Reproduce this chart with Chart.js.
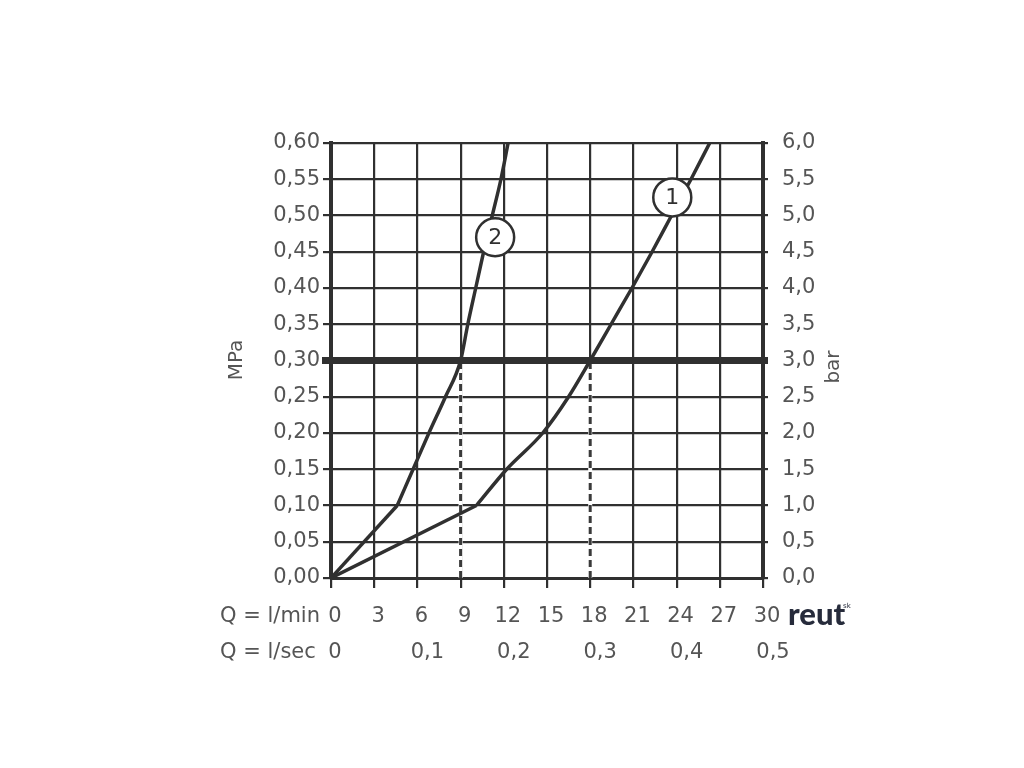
<!DOCTYPE html>
<html>
<head>
<meta charset="utf-8">
<script src="https://cdn.jsdelivr.net/npm/chart.js@4/dist/chart.umd.min.js"></script>
<style>
  html, body { margin: 0; padding: 0; background: #fff; }
  #wrap { width: 1024px; height: 768px; position: relative; }
</style>
</head>
<body>
<div id="wrap"><canvas id="chart" width="1024" height="768"></canvas></div>
<script>
// flow Q in l/min against pressure in MPa; the first two points of each curve
// form a straight start, the rest is a smooth curve
const curve1Q   = [0, 10.1, 12.2, 14.7, 16.5, 18, 19.45, 20.9, 22.3, 23.65, 25.0, 26.3];
const curve1MPa = [0, 0.10, 0.15, 0.20, 0.25, 0.30, 0.35, 0.40, 0.45, 0.50, 0.55, 0.60];
const curve2Q   = [0, 4.6, 5.7, 6.8, 7.95, 9, 9.5, 10.05, 10.6, 11.2, 11.8, 12.3];
const curve2MPa = [0, 0.10, 0.15, 0.20, 0.25, 0.30, 0.35, 0.40, 0.45, 0.50, 0.55, 0.60];

const refPressure = 0.30;          // thick line
const refFlows = [9, 18];          // dashed drops
const curveLabels = ['1', '2'];
const labelQ   = [23.7, 11.4];
const labelMPa = [0.525, 0.470];

const lsecTicks = [0, 0.1, 0.2, 0.3, 0.4, 0.5];

const INK = '#303030';
const TXT = '#555';
const FONT = 'DejaVu Sans';

const toPts = (xs, ys) => xs.map((x, i) => ({ x: x, y: ys[i] }));
const comma = v => String(v).replace('.', ',');

// start of a curve (straight) and the rest (smooth)
function curveSets(xs, ys) {
  return [
    {
      data: toPts(xs.slice(0, 2), ys.slice(0, 2)), order: 0,
      borderColor: INK, borderWidth: 3.5, pointRadius: 0, tension: 0
    },
    {
      data: toPts(xs.slice(1), ys.slice(1)), order: 0,
      borderColor: INK, borderWidth: 3.5, pointRadius: 0,
      cubicInterpolationMode: 'monotone'
    }
  ];
}

// dashed drop: white line hides the grid line, dashes on top
// (a lower order is drawn later, on top)
function dropSets(q) {
  const pts = toPts([q, q], [0, refPressure]);
  return [
    { data: pts, order: 2, borderColor: '#fff', borderWidth: 4, pointRadius: 0 },
    { data: pts, order: 1, borderColor: '#3a3a3a', borderWidth: 3, borderDash: [7, 4], pointRadius: 0 }
  ];
}

// extra text and marks around the plot
const extras = {
  id: 'extras',
  afterDatasetsDraw(chart) {
    const ctx = chart.ctx;
    const { x, y } = chart.scales;
    const area = chart.chartArea;
    ctx.save();

    // thick line runs out over the tick marks
    const yr = y.getPixelForValue(refPressure);
    ctx.strokeStyle = INK;
    ctx.lineWidth = 7;
    ctx.beginPath();
    ctx.moveTo(area.left - 9, yr);
    ctx.lineTo(area.right + 5, yr);
    ctx.stroke();

    // numbers inside the circles
    ctx.fillStyle = INK;
    ctx.font = '22px ' + FONT;
    ctx.textAlign = 'center';
    ctx.textBaseline = 'middle';
    curveLabels.forEach((t, i) => {
      ctx.fillText(t, x.getPixelForValue(labelQ[i]), y.getPixelForValue(labelMPa[i]) + 1);
    });

    // axis titles
    ctx.fillStyle = TXT;
    ctx.font = '20px ' + FONT;
    ctx.save();
    ctx.translate(237, 360);
    ctx.rotate(-Math.PI / 2);
    ctx.fillText('MPa', 0, 0);
    ctx.restore();
    ctx.save();
    ctx.translate(834, 367);
    ctx.rotate(-Math.PI / 2);
    ctx.fillText('bar', 0, 0);
    ctx.restore();

    // row captions
    ctx.font = '21px ' + FONT;
    ctx.textAlign = 'left';
    ctx.fillText('Q = l/min', 220, 617);
    ctx.fillText('Q = l/sec', 220, 653);

    // l/sec row
    ctx.textAlign = 'center';
    lsecTicks.forEach(v => {
      const px = x.getPixelForValue(v * 60) + (v === 0 ? 4 : 10);
      ctx.fillText(comma(v), px, 653);
    });

    // logo
    ctx.fillStyle = '#262b3b';
    ctx.font = '900 31px Lato';
    ctx.textAlign = 'left';
    ctx.textBaseline = 'alphabetic';
    ctx.fillText('reut', 788, 625);
    ctx.font = '7px ' + FONT;
    ctx.fillText('sk', 843, 608);

    ctx.restore();
  }
};

const ctx = document.getElementById('chart').getContext('2d');
new Chart(ctx, {
  type: 'line',
  data: {
    datasets: [
      ...dropSets(refFlows[0]),
      ...dropSets(refFlows[1]),
      ...curveSets(curve1Q, curve1MPa),
      ...curveSets(curve2Q, curve2MPa),
      {
        data: toPts(labelQ, labelMPa),
        order: -1,
        showLine: false,
        pointRadius: 19,
        pointBackgroundColor: '#fff',
        pointBorderColor: INK,
        pointBorderWidth: 2.5
      }
    ]
  },
  options: {
    responsive: false,
    animation: false,
    layout: { padding: { top: 143, left: 0, right: 0, bottom: 0 } },
    plugins: { legend: { display: false }, tooltip: { enabled: false } },
    scales: {
      x: {
        type: 'linear', min: 0, max: 30,
        afterFit: s => { s.height = 190; },
        border: { color: INK, width: 3 },
        grid: { color: INK, lineWidth: 2.2, tickLength: 10 },
        ticks: {
          stepSize: 3, padding: 16, labelOffset: 4, color: TXT,
          font: { family: FONT, size: 21 },
          callback: v => String(v)
        }
      },
      y: {
        type: 'linear', min: 0, max: 0.6, position: 'left',
        afterFit: s => { s.width = 331; },
        border: { color: INK, width: 4 },
        grid: { color: INK, lineWidth: 2.2, tickLength: 8 },
        ticks: {
          stepSize: 0.05, padding: 3, color: TXT,
          font: { family: FONT, size: 21 },
          callback: v => comma(v.toFixed(2))
        }
      },
      y2: {
        type: 'linear', min: 0, max: 6, position: 'right',
        afterFit: s => { s.width = 1024 - 763; },
        border: { color: INK, width: 4 },
        grid: { drawOnChartArea: false, color: INK, lineWidth: 2.2, tickLength: 5 },
        ticks: {
          stepSize: 0.5, padding: 14, color: TXT,
          font: { family: FONT, size: 21 },
          callback: v => comma(v.toFixed(1))
        }
      }
    }
  },
  plugins: [extras]
});
</script>
</body>
</html>
